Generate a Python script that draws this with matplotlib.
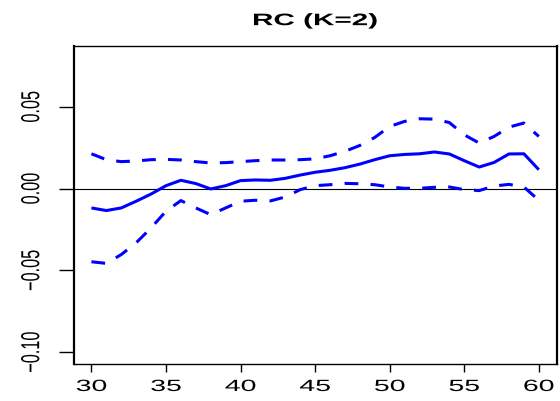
import matplotlib
matplotlib.use("Agg")
import matplotlib.pyplot as plt
from matplotlib.patheffects import AbstractPathEffect
from matplotlib.transforms import Affine2D

# effect of age (RC model, K=2) with pointwise bands
age = list(range(30, 61))
est = [-0.0118, -0.0134, -0.0118, -0.0077, -0.0033, 0.0018, 0.0051, 0.0031,
       -0.0002, 0.0018, 0.0049, 0.0053, 0.0051, 0.0063, 0.0083, 0.0100,
       0.0112, 0.0128, 0.0150, 0.0177, 0.0201, 0.0209, 0.0213, 0.0224,
       0.0212, 0.0171, 0.0132, 0.0160, 0.0212, 0.0213, 0.0116]
upper = [0.0213, 0.0177, 0.0165, 0.0169, 0.0177, 0.0179, 0.0175, 0.0165,
         0.0157, 0.0159, 0.0165, 0.0171, 0.0175, 0.0175, 0.0177, 0.0182,
         0.0201, 0.0228, 0.0264, 0.0313, 0.0380, 0.0411, 0.0427, 0.0425,
         0.0404, 0.0329, 0.0279, 0.0319, 0.0376, 0.0401, 0.0319]
lower = [-0.0447, -0.0457, -0.0403, -0.0331, -0.0240, -0.0138, -0.0073, -0.0118,
         -0.0159, -0.0118, -0.0077, -0.0071, -0.0075, -0.0051, -0.0006, 0.0018,
         0.0024, 0.0032, 0.0030, 0.0024, 0.0010, 0.0002, 0.0002, 0.0008,
         0.0010, -0.0006, -0.0012, 0.0016, 0.0026, 0.0010, -0.0071]

xticks = [30, 35, 40, 45, 50, 55, 60]
yticks = [-0.10, -0.05, 0.00, 0.05]
ylabels = ["\u22120.10", "\u22120.05", "0.00", "0.05"]
title = "RC (K=2)"


class Widen(AbstractPathEffect):
    """Stretch glyphs about their centre (sx along baseline, sy across it)."""

    def __init__(self, sx=1.0, sy=1.0):
        super().__init__()
        self.sx, self.sy = sx, sy

    def draw_path(self, renderer, gc, tpath, affine, rgbFace=None):
        ext = tpath.get_extents()
        cx, cy = ext.x0 + ext.width / 2, ext.y0 + ext.height / 2
        st = Affine2D().translate(-cx, -cy).scale(self.sx, self.sy).translate(cx, cy)
        renderer.draw_path(gc, tpath, st + affine, rgbFace)


plt.rcParams['font.family'] = ['Liberation Sans', 'DejaVu Sans']

fig = plt.figure(figsize=(5.6, 4.01), dpi=100)
ax = fig.add_axes([0.1313, 0.0923, 0.8628, 0.793])

ax.axhline(0, color='black', lw=0.8)
ax.plot(age, est, color='blue', lw=2.2, solid_capstyle='butt')
dash = (0, (4.5, 4))
ax.plot(age, upper, color='blue', lw=2.2, linestyle=dash, dash_capstyle='butt')
ax.plot(age, lower, color='blue', lw=2.2, linestyle=dash, dash_capstyle='butt')

ax.set_xlim(28.8, 61.2)
ax.set_ylim(-0.1072, 0.0872)
ax.set_xticks(xticks)
ax.set_yticks(yticks)
ax.set_yticklabels(ylabels)

ax.tick_params(axis='x', length=5.8, width=1, pad=5, labelsize=11.7)
ax.tick_params(axis='y', length=11, width=1, pad=14, labelsize=11.7)
for lab in ax.get_xticklabels():
    lab.set_path_effects([Widen(1.75, 1.0)])
for lab in ax.get_yticklabels():
    lab.set_rotation(90)
    lab.set_va('center')
    lab.set_path_effects([Widen(1.0, 1.6)])

for side in ['top', 'bottom']:
    ax.spines[side].set_linewidth(1.0)
for side in ['left', 'right']:
    ax.spines[side].set_linewidth(1.6)

t = ax.set_title(title, fontsize=12, fontweight='bold', pad=15)
t.set_path_effects([Widen(1.78, 1.0)])

fig.savefig('out.png', dpi=100)
